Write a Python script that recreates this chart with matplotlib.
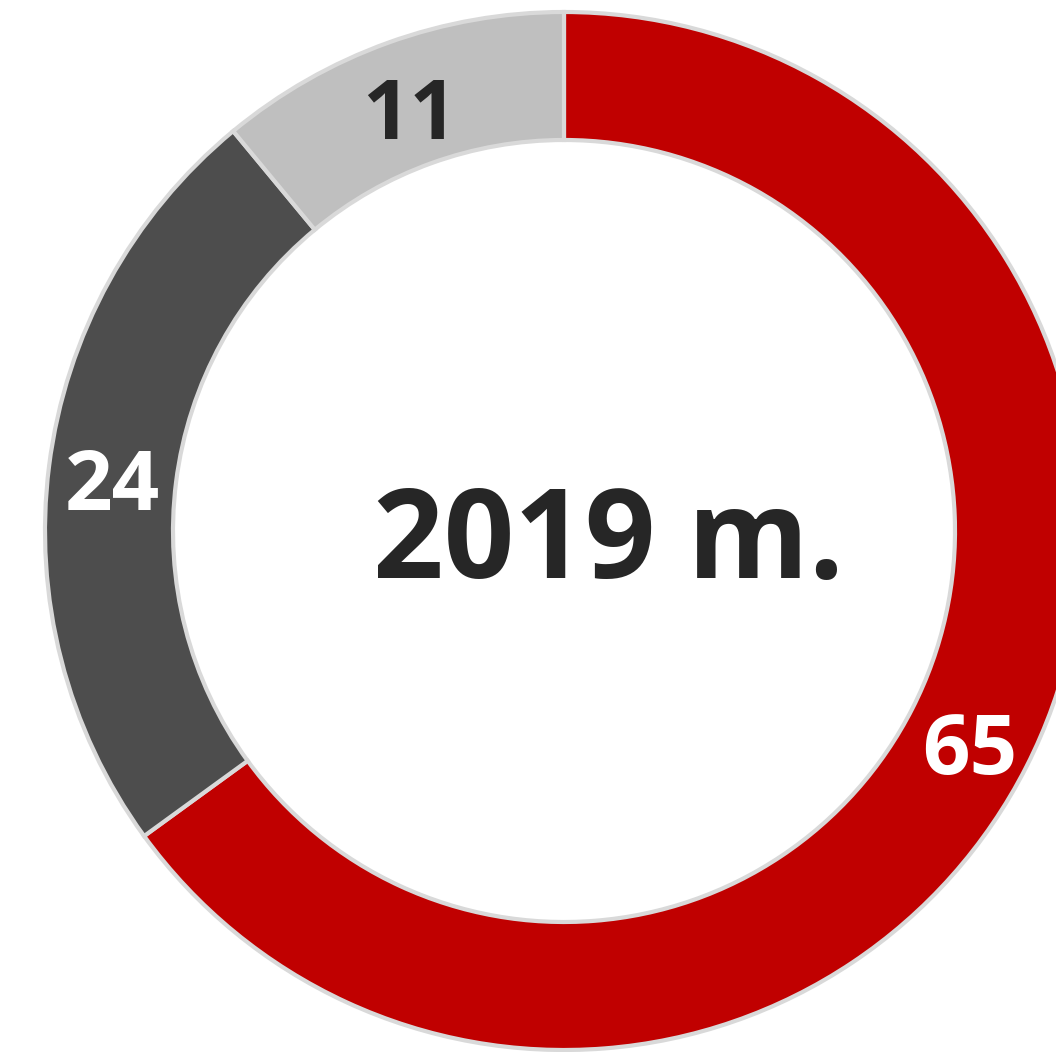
import numpy as np
import matplotlib
matplotlib.use("Agg")
import matplotlib.pyplot as plt

categories = ["A", "B", "C"]
values = [65, 24, 11]
labels = ["65", "24", "11"]
colors = ["#c00000", "#4d4d4d", "#bfbfbf"]
label_colors = ["white", "white", "#262626"]
center_title = "2019 m."

W, H = 1056, 1052
fig = plt.figure(figsize=(W / 100, H / 100), dpi=100)
ax = fig.add_axes([0, 0, 1, 1])

cx, cy = 564, H - 531
R_out, width = 519, 128

wedges, _ = ax.pie(values, radius=R_out, center=(cx, cy), startangle=90,
                   counterclock=False, colors=colors,
                   wedgeprops=dict(width=width, edgecolor="#d9d9d9", linewidth=3))

r_mid = R_out - width / 2
for w, lab, lc in zip(wedges, labels, label_colors):
    ang = np.deg2rad((w.theta1 + w.theta2) / 2)
    x = cx + r_mid * np.cos(ang)
    y = cy + r_mid * np.sin(ang)
    ax.text(x, y - 15, lab, ha="center", va="center", color=lc,
            fontsize=60, fontweight="bold", family=["Open Sans", "DejaVu Sans"])

ax.text(cx + 45, cy - 15, center_title, ha="center", va="center", color="#262626",
        fontsize=89, fontweight="bold", family=["Open Sans", "DejaVu Sans"])

ax.set_xlim(0, W)
ax.set_ylim(0, H)
ax.set_aspect("auto")
ax.axis("off")
fig.savefig("out.png", dpi=100)
